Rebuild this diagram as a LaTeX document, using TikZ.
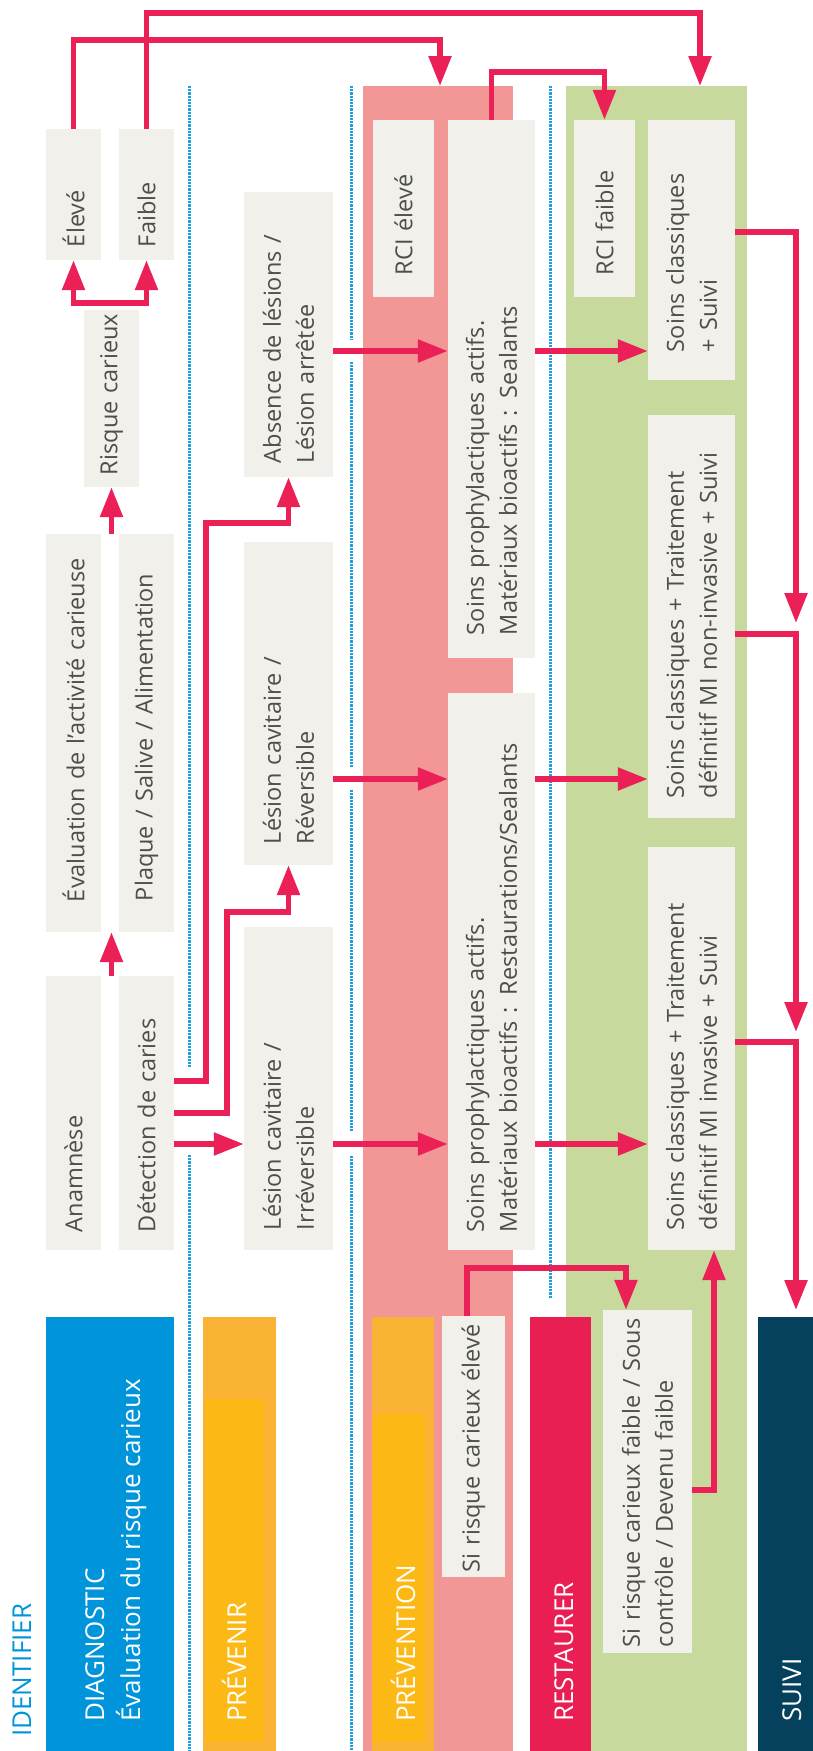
\documentclass[tikz,border=0pt]{standalone}
\usepackage{fontspec}
\setmainfont{Open Sans}
\usetikzlibrary{arrows.meta}

\definecolor{rose}{RGB}{242,151,150}
\definecolor{vert}{RGB}{200,217,157}
\definecolor{fond}{RGB}{241,240,234}
\definecolor{gris}{RGB}{78,78,77}
\definecolor{rouge}{RGB}{234,32,87}
\definecolor{bleu}{RGB}{0,149,218}
\definecolor{bleuclair}{RGB}{27,159,224}
\definecolor{orange}{RGB}{249,178,51}
\definecolor{jaune}{RGB}{252,184,20}
\definecolor{framboise}{RGB}{233,30,82}
\definecolor{marine}{RGB}{5,65,92}

\begin{document}
\begin{tikzpicture}[x=1pt, y=-1pt,
        boite/.style={rectangle, fill=fond, text=gris, rotate=90, inner ysep=0pt, align=left, font=\fontsize{23.5}{33}\selectfont},
        fleche/.style={draw=rouge, line width=5.5pt, -{Triangle[length=30pt, width=22pt]}},
        pointille/.style={draw=bleuclair, line width=3pt, dash pattern=on 2.2pt off 1pt},
        titre/.style={rotate=90, inner sep=0pt, text=white, font=\fontsize{26}{36}\selectfont}]
    \useasboundingbox (0,0) rectangle (813,1751);

    % zones
    \fill[rose] (363,86) rectangle (513,1751);
    \fill[vert] (566,86) rectangle (747,1751);

    % bandes du bas
    \fill[bleu] (46,1317) rectangle (174,1751);
    \fill[orange] (203,1317) rectangle (276,1751);
    \fill[jaune] (206,1399) rectangle (264,1742);
    \fill[orange] (372,1317) rectangle (434,1751);
    \fill[jaune] (373,1414) rectangle (425,1742);
    \fill[framboise] (530,1317) rectangle (591,1751);
    \fill[marine] (758,1317) rectangle (813,1751);

    % separations
    \draw[pointille] (189,86) -- (189,1067) (189,1155) -- (189,1751);
    \draw[pointille] (351,86) -- (351,340) (351,362) -- (351,767) (351,790) -- (351,1131) (351,1156) -- (351,1751);
    \draw[pointille] (550,86) -- (550,1298);

    % identifier
    \node[boite, minimum width=131pt, minimum height=55pt, inner xsep=13pt, text width=105pt] (eleve) at (73.5,194.5) {Élevé};
    \node[boite, minimum width=131pt, minimum height=55pt, inner xsep=13pt, text width=105pt] (faible) at (146.5,194.5) {Faible};
    \node[boite, minimum width=177pt, minimum height=55pt, inner xsep=12pt, text width=153pt] (risque) at (111.5,398.5) {Risque~carieux};
    \node[boite, minimum width=398pt, minimum height=55pt, inner xsep=30pt, text width=338pt] (evaluation) at (73.5,733) {Évaluation~de~l’activité~carieuse};
    \node[boite, minimum width=398pt, minimum height=55pt, inner xsep=31pt, text width=336pt] (plaque) at (146.5,733) {Plaque~/ Salive~/ Alimentation};
    \node[boite, minimum width=274pt, minimum height=55pt, inner xsep=18pt, text width=238pt] (anamnese) at (73.5,1113) {Anamnèse};
    \node[boite, minimum width=274pt, minimum height=55pt, inner xsep=18pt, text width=238pt] (detection) at (146.5,1113) {Détection de caries};

    % prevenir
    \node[boite, minimum width=285pt, minimum height=89pt, inner xsep=14pt, text width=257pt] (absence) at (288.5,334.5) {Absence de lésions /\\Lésion arrêtée};
    \node[boite, minimum width=323pt, minimum height=89pt, inner xsep=21pt, text width=281pt] (reversible) at (288.5,703.5) {Lésion cavitaire /\\Réversible};
    \node[boite, minimum width=323pt, minimum height=89pt, inner xsep=20pt, text width=283pt] (irreversible) at (288.5,1088.5) {Lésion cavitaire /\\Irréversible};

    % prevention
    \node[boite, minimum width=177pt, minimum height=61pt, inner xsep=22pt, text width=133pt] (rci_eleve) at (403.5,208.5) {RCI élevé};
    \node[boite, minimum width=538pt, minimum height=87pt, inner xsep=23pt, text width=492pt] (soins_sealants) at (491.5,389) {Soins prophylactiques actifs.\\Matériaux bioactifs : Sealants};
    \node[boite, minimum width=557pt, minimum height=87pt, inner xsep=18pt, text width=521pt] (soins_restaurations) at (491.5,971.5) {Soins prophylactiques actifs.\\Matériaux bioactifs : Restaurations/Sealants};
    \node[boite, minimum width=261pt, minimum height=63pt, inner xsep=5pt, text width=251pt] (si_eleve) at (473.5,1446.5) {Si~risque~carieux~élevé};

    % restaurer
    \node[boite, minimum width=177pt, minimum height=61pt, inner xsep=22pt, text width=133pt] (rci_faible) at (604.5,208.5) {RCI faible};
    \node[boite, minimum width=260pt, minimum height=87pt, inner xsep=28pt, text width=204pt] (soins_suivi) at (691.5,250) {Soins classiques\\+ Suivi};
    \node[boite, minimum width=403pt, minimum height=87pt, inner xsep=20pt, text width=363pt] (soins_noninv) at (691.5,616.5) {Soins classiques + Traitement\\définitif~MI~non-invasive~+~Suivi};
    \node[boite, minimum width=403pt, minimum height=87pt, inner xsep=20pt, text width=363pt] (soins_inv) at (691.5,1048.5) {Soins classiques + Traitement\\définitif MI invasive + Suivi};
    \node[boite, minimum width=343pt, minimum height=89pt, inner xsep=6pt, text width=331pt] (si_faible) at (647.5,1481.5) {Si~risque~carieux~faible~/~Sous\\contrôle~/~Devenu~faible};

    % titres
    \node[titre, text=bleu, anchor=base west] (identifier) at (31,1737) {IDENTIFIER};
    \node[titre, anchor=north west, align=left] (diagnostic) at (85,1722) {DIAGNOSTIC\\Évaluation du risque carieux};
    \node[titre, anchor=base west] (prevenir) at (246,1722) {PRÉVENIR};
    \node[titre, anchor=base west] (prevention) at (415,1722) {PRÉVENTION};
    \node[titre, anchor=base west] (restaurer) at (573,1722) {RESTAURER};
    \node[titre, anchor=base west] (suivi) at (801,1722) {SUIVI};

    % points d'arrivee
    \coordinate (haut_rose) at (440,86);
    \coordinate (haut_vert) at (700,86);
    \coordinate (ligne1) at (0,351);
    \coordinate (ligne2) at (0,779);
    \coordinate (ligne3) at (0,1144);
    \coordinate (fin1) at (796,623);
    \coordinate (fin2) at (796,1032);
    \coordinate (fin3) at (796,1310);

    % fleches
    \draw[fleche] (eleve.east) |- ([yshift=46pt]haut_rose) -- (haut_rose);
    \draw[fleche] (faible.east) |- ([yshift=73pt]haut_vert) -- (haut_vert);
    \draw[fleche] (soins_sealants.east) |- ([yshift=48pt]rci_faible.east) -- (rci_faible.east);
    \draw[fleche] ([yshift=7pt]risque.east) -| (eleve.west);
    \draw[fleche] ([yshift=7pt]risque.east) -| (faible.west);
    \draw[fleche] (evaluation.east -| risque.west) -- (risque.west);
    \draw[fleche] (anamnese.east -| risque.west) -- (evaluation.west -| risque.west);
    \draw[fleche] ([yshift=32pt]detection.south) -- ++(32,0) |- ([yshift=-46pt]absence.west) -- (absence.west);
    \draw[fleche] (detection.south) -- ++(53,0) |- ([yshift=-47pt]reversible.west) -- (reversible.west);
    \draw[fleche] (detection.south |- ligne3) -- (irreversible.north |- ligne3);
    \draw[fleche] (absence.south |- ligne1) -- (soins_sealants.north |- ligne1);
    \draw[fleche] (soins_sealants.south |- ligne1) -- (soins_suivi.north |- ligne1);
    \draw[fleche] (reversible.south |- ligne2) -- (soins_restaurations.north |- ligne2);
    \draw[fleche] (soins_restaurations.south |- ligne2) -- (soins_noninv.north |- ligne2);
    \draw[fleche] (irreversible.south |- ligne3) -- (soins_restaurations.north |- ligne3);
    \draw[fleche] (soins_restaurations.south |- ligne3) -- (soins_inv.north |- ligne3);
    \draw[fleche] ([yshift=18pt]soins_suivi.south) -| (fin1);
    \draw[fleche] ([yshift=-17.5pt]soins_noninv.south) -| (fin2);
    \draw[fleche] ([yshift=6.5pt]soins_inv.south) -| (fin3);
    \draw[fleche] ([xshift=-6.5pt]si_eleve.east) |- ([xshift=-21.5pt, yshift=42pt]si_faible.east) -- ([xshift=-21.5pt]si_faible.east);
    \draw[fleche] ([yshift=-8.5pt]si_faible.south) -| ([xshift=22.5pt]soins_inv.west);
\end{tikzpicture}
\end{document}
